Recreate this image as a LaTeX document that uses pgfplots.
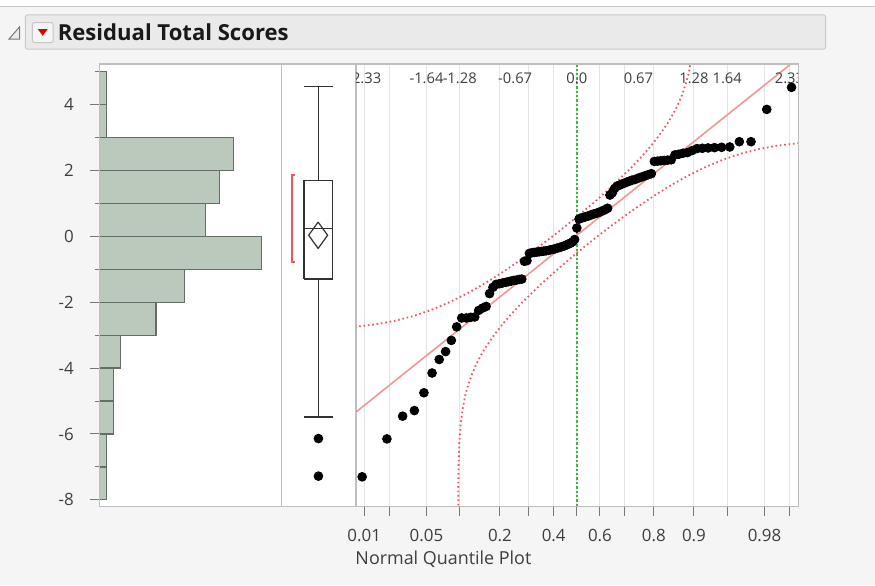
\documentclass[border=0pt]{standalone}
\usepackage{fontspec}
\setmainfont{Open Sans}
\usepackage{pgfplots}
\pgfplotsset{compat=1.18}

\definecolor{bgc}{RGB}{245,245,245}
\definecolor{hdrfill}{RGB}{234,234,234}
\definecolor{hdrline}{RGB}{200,200,200}
\definecolor{framec}{RGB}{190,190,190}
\definecolor{tickc}{RGB}{120,120,120}
\definecolor{labc}{RGB}{62,62,62}
\definecolor{histfill}{RGB}{186,201,187}
\definecolor{histdraw}{RGB}{100,110,100}
\definecolor{gridc}{RGB}{228,228,228}
\definecolor{refc}{RGB}{242,150,150}
\definecolor{bandc}{RGB}{238,85,100}
\definecolor{zeroc}{RGB}{60,185,60}
\definecolor{boxc}{RGB}{50,50,50}

\pgfplotsset{
  panel/.style={
    scale only axis, anchor=north west, height=221.35bp,
    ymin=-8.19, ymax=5.23,
    axis line style={draw=framec, line width=0.6bp},
    axis background/.style={fill=white},
    tick style={draw=tickc, line width=0.5bp},
    tick label style={text=labc, font=\fontsize{8.5}{10}\selectfont},
  },
  boxline/.style={draw=boxc, line width=0.8bp},
}
\tikzset{toplab/.style={text=labc, font=\fontsize{7.4}{9}\selectfont, inner sep=0pt, yshift=-7bp}}

\begin{document}
\begin{tikzpicture}
% page background and header bar
\fill[bgc] (0,0) rectangle (437.5bp,-293bp);
\fill[white] (0,0) rectangle (437.5bp,-3bp);
\draw[hdrline, line width=0.5bp] (0,-3.3bp) -- (437.5bp,-3.3bp);
\draw[fill=hdrfill, draw=hdrline, line width=0.5bp, rounded corners=1bp] (12.5bp,-7.5bp) rectangle (413bp,-24.6bp);
\draw[tickc, fill=gray!15, line width=0.5bp] (9.6bp,-13.4bp) -- (9.6bp,-19.6bp) -- (4.2bp,-19.6bp) -- cycle;
\draw[fill=white!92!gray, draw=gray!45, line width=0.5bp, rounded corners=1bp] (16bp,-11.3bp) rectangle (26.3bp,-21.3bp);
\fill[red!85!black] (18.7bp,-14.6bp) -- (23.6bp,-14.6bp) -- (21.15bp,-17.9bp) -- cycle;
\node[anchor=base west, inner sep=0pt, text=black!90, font=\bfseries\fontsize{11.1}{13}\selectfont] at (28.5bp,-20.3bp) {Residual Total Scores};

% histogram
\begin{axis}[panel, at={(49.65bp,-32bp)}, width=90.85bp,
  xmin=0, xmax=25.8, xtick=\empty,
  ytick={-8,-6,-4,-2,0,2,4}, yticklabels={-8,-6,-4,-2,0,2,4},
  minor ytick={-7,-5,-3,-1,1,3,5},
  ytick pos=left, tick align=outside,
  major tick length=5bp, minor tick length=2.5bp,
  yticklabel style={xshift=-4.5bp}]
\addplot[xbar interval, fill=histfill, draw=histdraw, line width=0.6bp] coordinates {
  (1,-8) (1,-7) (2,-6) (2,-5) (3,-4) (8,-3) (12,-2) (23,-1)
  (15,0) (17,1) (19,2) (1,3) (1,4) (0,5)};
\end{axis}

% box plot: quartiles, median, whiskers, mean diamond, shortest half, outliers
\begin{axis}[panel, at={(140.5bp,-32bp)}, width=37.5bp,
  xmin=0, xmax=75, xtick=\empty, ytick=\empty]
\addplot[boxline] coordinates {(23.1,-1.30) (51.5,-1.30) (51.5,1.69) (23.1,1.69) (23.1,-1.30)};
\addplot[boxline] coordinates {(23.1,0.23) (51.5,0.23)};
\addplot[boxline] coordinates {(37.3,1.69) (37.3,4.54)};
\addplot[boxline] coordinates {(23.1,4.54) (51.5,4.54)};
\addplot[boxline] coordinates {(37.3,-1.30) (37.3,-5.48)};
\addplot[boxline] coordinates {(23.1,-5.48) (51.5,-5.48)};
\addplot[boxline, line width=0.6bp] coordinates {
  (37.0,0.43) (46.5,0.03) (37.0,-0.37) (27.5,0.03) (37.0,0.43)};
\addplot[draw=bandc, line width=0.7bp] coordinates {
  (14,1.86) (10.7,1.86) (10.7,-0.78) (14,-0.78)};
\addplot[only marks, mark=*, mark size=2.2bp, black] coordinates {
  (37.3,-6.14) (37.3,-7.28)};
\end{axis}

% normal quantile plot
\begin{axis}[panel, at={(178bp,-32bp)}, width=221.65bp,
  xmin=-2.4153, xmax=2.4295, ytick=\empty,
  xtick={-2.326,-2.054,-1.645,-1.2816,-0.8416,-0.5244,-0.2533,0,
         0.2533,0.5244,0.8416,1.2816,1.645,2.054,2.326},
  xticklabels={0.01,,0.05,,0.2,,0.4,,0.6,,0.8,0.9,,0.98,},
  xtick pos=bottom, tick align=outside, major tick length=5bp,
  xticklabel style={yshift=-3.2bp},
  xmajorgrids, grid style={draw=gridc, line width=0.5bp}]
\addplot[zeroc, line width=0.8bp, dash pattern=on 1.2bp off 1bp] coordinates {(0,-8.19) (0,5.23)};
% confidence bands
\addplot[bandc, line width=0.9bp, dash pattern=on 0.8bp off 1.4bp] coordinates {
  (-2.43,-2.748) (-2.2,-2.673) (-2.0,-2.571) (-1.8,-2.431) (-1.6,-2.244)
  (-1.4,-2.011) (-1.2,-1.734) (-1.0,-1.419) (-0.8,-1.068) (-0.6,-0.688)
  (-0.4,-0.286) (-0.2,0.138) (0,0.586) (0.2,1.055) (0.4,1.554) (0.6,2.096)
  (0.7,2.391) (0.8,2.706) (0.9,3.057) (1.0,3.459) (1.05,3.694) (1.1,3.961)
  (1.15,4.280) (1.2,4.691) (1.22,4.906) (1.243,5.230) (1.26,5.52)};
\addplot[bandc, line width=0.9bp, dash pattern=on 0.8bp off 1.4bp] coordinates {
  (-1.2982,-8.3) (-1.297,-7.5) (-1.295,-7.04) (-1.285,-6.22) (-1.27,-5.679)
  (-1.25,-5.25) (-1.243,-5.150) (-1.22,-4.826) (-1.2,-4.611) (-1.15,-4.200)
  (-1.1,-3.881) (-1.05,-3.614) (-1.0,-3.379) (-0.9,-2.977) (-0.8,-2.626)
  (-0.7,-2.311) (-0.6,-2.016) (-0.4,-1.474) (-0.2,-0.975) (0,-0.506)
  (0.2,-0.058) (0.4,0.366) (0.6,0.768) (0.8,1.148) (1.0,1.499) (1.2,1.814)
  (1.4,2.091) (1.6,2.324) (1.8,2.511) (2.0,2.651) (2.2,2.753) (2.43,2.828)};
% reference line
\addplot[refc, line width=0.8bp] coordinates {(-2.4153,-5.332) (2.4295,5.423)};
% residuals against normal quantiles
\addplot[only marks, mark=*, mark size=2.2bp, black] coordinates {
  (-2.349,-7.30) (-2.078,-6.15) (-1.906,-5.46) (-1.778,-5.29) (-1.673,-4.75)
  (-1.584,-4.15) (-1.506,-3.74) (-1.436,-3.50) (-1.373,-3.16) (-1.315,-2.75)
  (-1.260,-2.48) (-1.210,-2.48) (-1.162,-2.46) (-1.117,-2.45) (-1.074,-2.25)
  (-1.032,-2.18) (-0.993,-2.13) (-0.955,-1.74) (-0.918,-1.55) (-0.883,-1.46)
  (-0.848,-1.44) (-0.815,-1.42) (-0.782,-1.40) (-0.751,-1.38) (-0.720,-1.36)
  (-0.689,-1.34) (-0.660,-1.33) (-0.631,-1.31) (-0.602,-1.30) (-0.574,-0.76)
  (-0.546,-0.74) (-0.519,-0.52) (-0.492,-0.50) (-0.466,-0.49) (-0.439,-0.48)
  (-0.413,-0.47) (-0.388,-0.46) (-0.362,-0.45) (-0.337,-0.44) (-0.312,-0.43)
  (-0.288,-0.41) (-0.263,-0.40) (-0.239,-0.38) (-0.215,-0.36) (-0.190,-0.34)
  (-0.166,-0.32) (-0.142,-0.30) (-0.118,-0.27) (-0.095,-0.24) (-0.071,-0.21)
  (-0.047,-0.17) (-0.024,-0.10) (0,0.25) (0.024,0.52) (0.047,0.55)
  (0.071,0.57) (0.095,0.59) (0.118,0.61) (0.142,0.63) (0.166,0.66)
  (0.190,0.68) (0.215,0.70) (0.239,0.72) (0.263,0.75) (0.288,0.78)
  (0.312,0.81) (0.337,0.85) (0.362,1.25) (0.388,1.32) (0.413,1.45)
  (0.439,1.52) (0.466,1.55) (0.492,1.58) (0.519,1.61) (0.546,1.64)
  (0.574,1.67) (0.602,1.70) (0.631,1.72) (0.660,1.75) (0.689,1.78)
  (0.720,1.81) (0.751,1.84) (0.782,1.87) (0.815,1.90) (0.848,2.27)
  (0.883,2.28) (0.918,2.29) (0.955,2.30) (0.993,2.31) (1.032,2.32)
  (1.074,2.47) (1.117,2.49) (1.162,2.52) (1.210,2.54) (1.260,2.60)
  (1.315,2.66) (1.373,2.67) (1.436,2.68) (1.506,2.69) (1.584,2.70)
  (1.673,2.71) (1.778,2.87) (1.906,2.87) (2.078,3.85) (2.349,4.52)};
% normal quantile labels along the top
\node[toplab] at (axis cs:-2.326,5.23) {-2.33};
\node[toplab] at (axis cs:-1.645,5.23) {-1.64};
\node[toplab] at (axis cs:-1.2816,5.23) {-1.28};
\node[toplab] at (axis cs:-0.6745,5.23) {-0.67};
\node[toplab] at (axis cs:0,5.23) {0.0};
\node[toplab] at (axis cs:0.6745,5.23) {0.67};
\node[toplab] at (axis cs:1.2816,5.23) {1.28};
\node[toplab] at (axis cs:1.645,5.23) {1.64};
\node[toplab] at (axis cs:2.326,5.23) {2.33};
\end{axis}

\draw[framec, line width=0.6bp] (49.65bp,-32bp) rectangle (399.65bp,-253.35bp);
\node[anchor=west, inner sep=0pt, text=labc, font=\fontsize{9}{11}\selectfont]
  at (177.5bp,-280bp) {Normal Quantile Plot};
\end{tikzpicture}
\end{document}
